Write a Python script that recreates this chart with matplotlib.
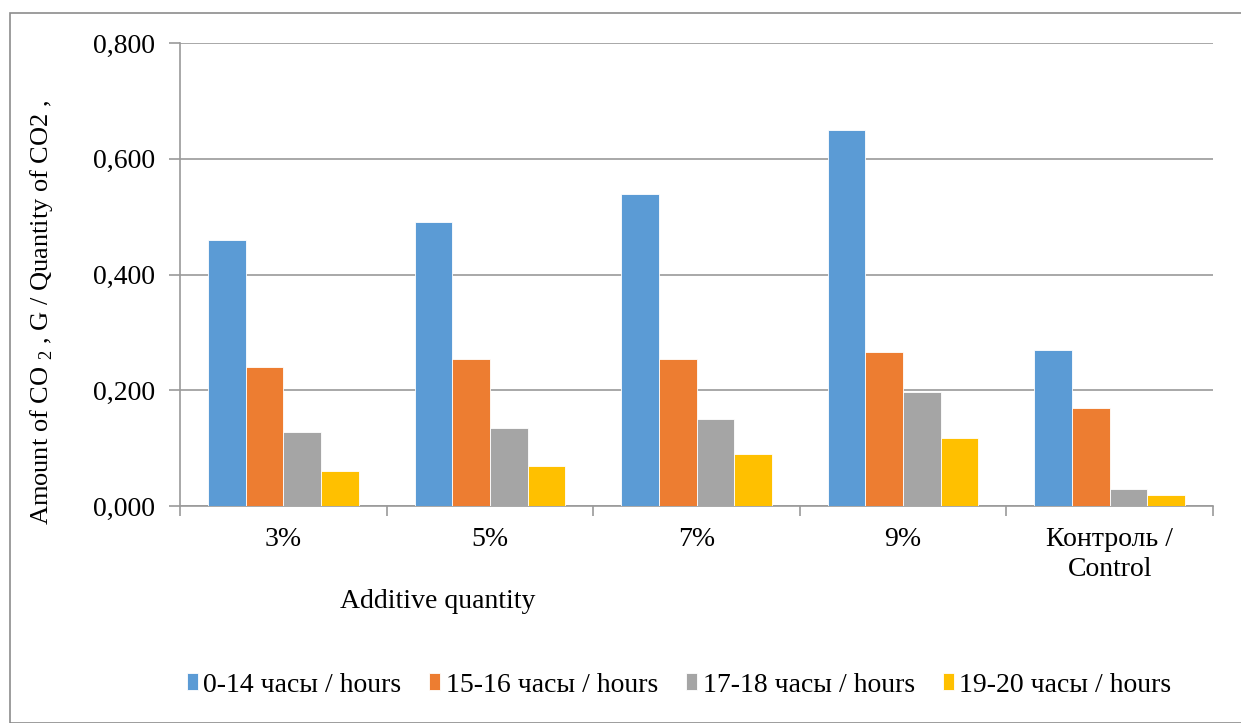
import numpy as np
import matplotlib.pyplot as plt
from matplotlib.patches import Rectangle

plt.rcParams['font.family'] = ['Liberation Serif', 'DejaVu Serif']
plt.rcParams['mathtext.fontset'] = 'custom'
plt.rcParams['mathtext.rm'] = 'Liberation Serif'

categories = ['3%', '5%', '7%', '9%', 'Контроль /\nControl']
series = ['0-14 часы / hours', '15-16 часы / hours', '17-18 часы / hours', '19-20 часы / hours']
h0_14 = [0.460, 0.491, 0.539, 0.650, 0.270]
h15_16 = [0.240, 0.254, 0.254, 0.266, 0.169]
h17_18 = [0.128, 0.135, 0.150, 0.197, 0.029]
h19_20 = [0.060, 0.069, 0.090, 0.117, 0.019]
colors = ['#5B9BD5', '#ED7D31', '#A5A5A5', '#FFC000']

fig = plt.figure(figsize=(12.41, 7.23), dpi=100)
ax = fig.add_axes([180 / 1241, 1 - 506 / 723, 1033 / 1241, 463 / 723])

x = np.arange(len(categories))
w = 0.182
for i, (vals, name) in enumerate(zip([h0_14, h15_16, h17_18, h19_20], series)):
    ax.bar(x + (i - 1.5) * w, vals, w, color=colors[i], label=name,
           edgecolor='white', linewidth=0.6, zorder=3)

ax.set_xlim(-0.5, len(categories) - 0.5)
ax.set_ylim(0, 0.8)
ax.set_yticks(np.arange(0, 0.81, 0.2))
ax.set_yticklabels([f'{v:.3f}'.replace('.', ',') for v in np.arange(0, 0.81, 0.2)], fontsize=20)
ax.yaxis.grid(True, color='#9a9a9a', linewidth=1.2, zorder=0)

ax.set_xticks(x)
ax.set_xticklabels(categories, fontsize=20, linespacing=1.25)
ax.set_xticks(np.arange(-0.5, len(categories)), minor=True)
ax.tick_params(axis='x', which='major', length=0, pad=15)
ax.tick_params(axis='x', which='minor', length=7, color='#9a9a9a', width=1.2)
ax.tick_params(axis='y', length=8, color='#9a9a9a', width=1.2, pad=10)

for s in ['top', 'right']:
    ax.spines[s].set_visible(False)
for s in ['left', 'bottom']:
    ax.spines[s].set_color('#9a9a9a')
    ax.spines[s].set_linewidth(1.2)

fig.text(42 / 1241, 1 - 312 / 723, r'Amount of CO $_{2}$ , G / Quantity of CO2 ,',
         rotation=90, ha='center', va='center', fontsize=19)
fig.text(438 / 1241, 1 - 601 / 723, 'Additive quantity', ha='center', va='center', fontsize=20)

ax.legend(loc='center', bbox_to_anchor=(679 / 1241, 1 - 685 / 723), bbox_transform=fig.transFigure,
          ncol=4, frameon=False, fontsize=20, handlelength=0.4, handleheight=0.55,
          handletextpad=0.2, columnspacing=1.0)

fig.patches.append(Rectangle((10 / 1241, 0), 1.0, 1 - 13 / 723, transform=fig.transFigure,
                             fill=False, edgecolor='#8c8c8c', linewidth=1.2))

fig.savefig('out.png', dpi=100)
